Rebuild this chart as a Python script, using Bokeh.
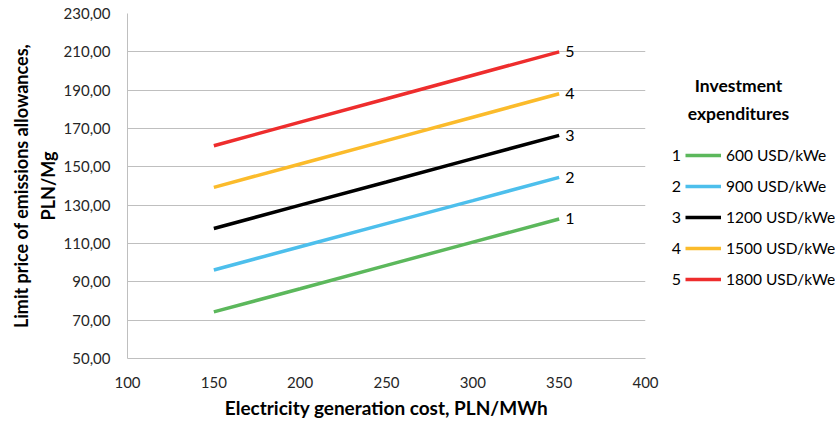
from bokeh.plotting import figure
from bokeh.layouts import row
from bokeh.models import Range1d, FixedTicker, Legend, LegendItem, Label
from bokeh.core.properties import value
from bokeh.embed import file_html
from bokeh.resources import INLINE

# ---- data ----
cost = [150, 200, 250, 300, 350]
s1 = [74.3, 86.4, 98.6, 110.7, 122.8]
s2 = [96.2, 108.3, 120.4, 132.4, 144.5]
s3 = [117.8, 130.0, 142.1, 154.3, 166.4]
s4 = [139.3, 151.5, 163.7, 175.9, 188.1]
s5 = [161.0, 173.3, 185.5, 197.8, 210.0]
series = [s1, s2, s3, s4, s5]
numbers = ["1", "2", "3", "4", "5"]
legend_labels = ["600 USD/kWe", "900 USD/kWe", "1200 USD/kWe", "1500 USD/kWe", "1800 USD/kWe"]
colors = ["#5cb85c", "#4dbfec", "#000000", "#fbbb2b", "#ee2d2d"]
y_ticks = [50, 70, 90, 110, 130, 150, 170, 190, 210, 230]
y_tick_labels = ["50,00", "70,00", "90,00", "110,00", "130,00", "150,00", "170,00", "190,00", "210,00", "230,00"]
x_ticks = [100, 150, 200, 250, 300, 350, 400]
legend_title = ["Investment", "expenditures"]

FONT = "Lato"
H = 423

p = figure(width=665, height=H, output_backend="svg", toolbar_location=None,
           x_range=Range1d(100, 400), y_range=Range1d(50, 230),
           min_border_left=127, min_border_right=20, min_border_top=13, min_border_bottom=65)
p.outline_line_color = None
p.background_fill_color = "white"

# axes
p.xaxis.ticker = FixedTicker(ticks=x_ticks)
p.yaxis.ticker = FixedTicker(ticks=y_ticks)
p.yaxis.major_label_overrides = {t: l for t, l in zip(y_ticks, y_tick_labels)}
for ax in (p.xaxis, p.yaxis):
    ax.major_tick_in = 0
    ax.major_tick_out = 0
    ax.minor_tick_in = 0
    ax.minor_tick_out = 0
    ax.axis_line_color = "#bfbfbf"
    ax.major_label_text_font = FONT
    ax.major_label_text_font_size = "15px"
    ax.major_label_text_color = "#262626"
    ax.axis_label_text_font = FONT
    ax.axis_label_text_font_style = "bold"
    ax.axis_label_text_color = "#000000"
p.xaxis.axis_label_text_font_size = "19px"
p.yaxis.axis_label_text_font_size = "18px"
p.xaxis.major_label_standoff = 18
p.yaxis.major_label_standoff = 17
p.xaxis.axis_label = "Electricity generation cost, PLN/MWh"
p.yaxis.axis_label = "Limit price of emissions allowances,\nPLN/Mg"
p.xaxis.axis_label_standoff = 5
p.yaxis.axis_label_standoff = 2

p.xgrid.grid_line_color = None
p.ygrid.grid_line_color = "#bfbfbf"
p.ygrid.grid_line_width = 1

for s, c, n in zip(series, colors, numbers):
    p.line(cost, s, line_color=c, line_width=3.5)
    p.text([cost[-1]], [s[-1]], text=[n], x_offset=6, text_baseline="middle",
           text_align="left", text_font=value(FONT), text_font_size="16px", text_color="#000000")

# ---- legend panel (its frame is aligned with the main frame by the row layout) ----
q = figure(width=170, height=H, output_backend="svg", toolbar_location=None,
           x_axis_type=None, y_axis_type=None, x_range=Range1d(0, 1), y_range=Range1d(0, 1),
           min_border_left=0, min_border_right=0, min_border_top=13, min_border_bottom=65)
q.outline_line_color = None
q.xgrid.visible = False
q.ygrid.visible = False

items = []
for s, c, lab in zip(series, colors, legend_labels):
    # same data, but outside this panel's ranges: only the legend glyph is visible
    r = q.line(cost, s, line_color=c, line_width=3.5)
    items.append(LegendItem(label=lab, renderers=[r]))

legend = Legend(items=items, location=(20, 69), orientation="vertical",
                glyph_width=36, glyph_height=20, label_height=20, spacing=11,
                label_standoff=5, padding=0, margin=0,
                label_text_font=FONT, label_text_font_size="15.5px", label_text_color="#000000",
                border_line_color=None, background_fill_alpha=0)
q.add_layout(legend, "center")

for i, n in enumerate(numbers):
    q.add_layout(Label(x=11, y=203 - i * 31, x_units="screen", y_units="screen", text=n,
                       text_align="center", text_baseline="middle", text_font=FONT,
                       text_font_size="16px", text_color="#000000"))

for i, t in enumerate(legend_title):
    q.add_layout(Label(x=73, y=273 - i * 28, x_units="screen", y_units="screen", text=t,
                       text_align="center", text_baseline="middle", text_font=FONT,
                       text_font_size="17.5px", text_font_style="bold", text_color="#000000"))

layout = row(p, q, spacing=0)
open("out.html", "w").write(file_html(layout, INLINE))
